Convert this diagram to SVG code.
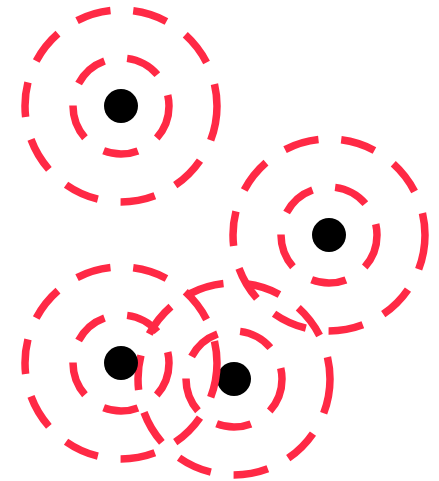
<svg xmlns="http://www.w3.org/2000/svg" width="439" height="481" viewBox="0 0 439 481">
<style>
.ring{fill:none;stroke:#ff2945;stroke-width:7.5;stroke-dasharray:35 23}
.dot{fill:#000}
</style>
<rect width="439" height="481" fill="#fff"/>
<g id="connectors"></g>
<g id="node1">
<circle class="ring" cx="121" cy="106" r="96"/>
<circle class="ring" cx="121" cy="106" r="48"/>
<circle class="dot" cx="121" cy="106" r="17"/>
</g>
<g id="node2">
<circle class="ring" cx="329" cy="235" r="96"/>
<circle class="ring" cx="329" cy="235" r="48"/>
<circle class="dot" cx="329" cy="235" r="17"/>
</g>
<g id="node4">
<circle class="ring" cx="234" cy="379" r="96"/>
<circle class="ring" cx="234" cy="379" r="48"/>
<circle class="dot" cx="234" cy="379" r="17"/>
</g>
<g id="node3">
<circle class="ring" cx="121" cy="363" r="96"/>
<circle class="ring" cx="121" cy="363" r="48"/>
<circle class="dot" cx="121" cy="363" r="17"/>
</g>
</svg>
